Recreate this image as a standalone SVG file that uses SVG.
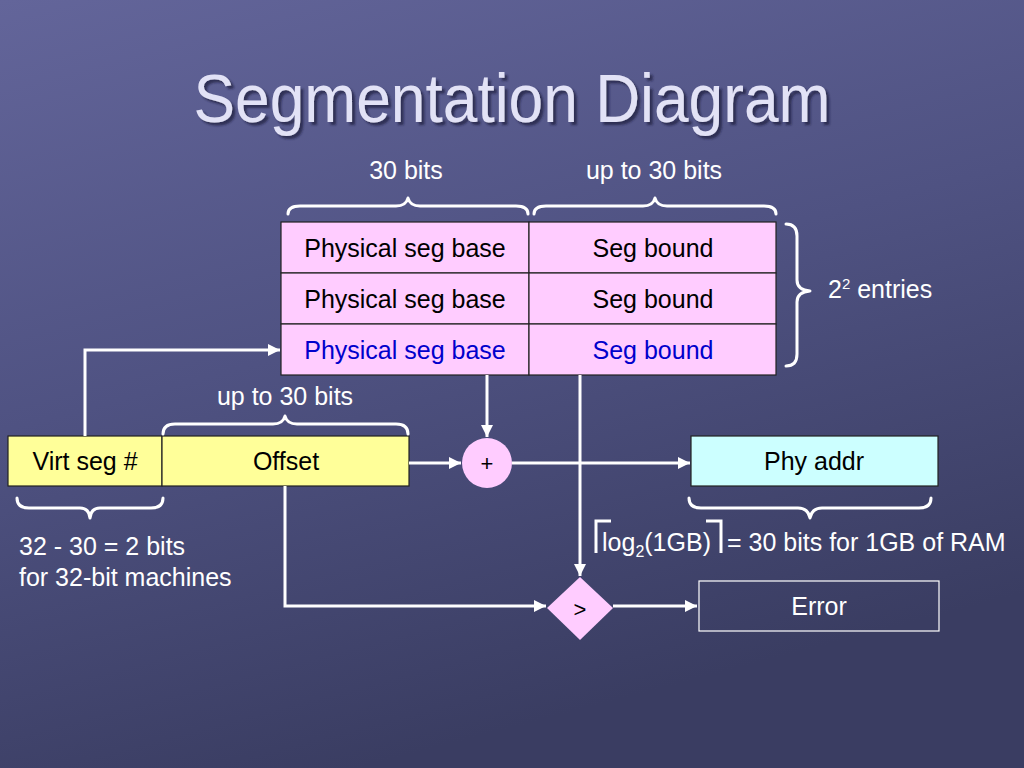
<svg xmlns="http://www.w3.org/2000/svg" width="1024" height="768" viewBox="0 0 1024 768">
<defs>
<linearGradient id="bg" x1="0" y1="0" x2="0.35" y2="1">
<stop offset="0" stop-color="#63659a"/>
<stop offset="0.5" stop-color="#4f5282"/>
<stop offset="1" stop-color="#3a3d62"/>
</linearGradient>
<filter id="shadow" x="-5%" y="-20%" width="110%" height="140%">
<feDropShadow dx="3" dy="3" stdDeviation="1.2" flood-color="#1e1f3a" flood-opacity="0.7"/>
</filter>
<marker id="arrw" viewBox="0 0 10 10" refX="10" refY="5" markerWidth="14" markerHeight="12" orient="auto" markerUnits="userSpaceOnUse">
<path d="M0,0 L10,5 L0,10 z" fill="#ffffff"/>
</marker>
</defs>
<style>
text{font-family:"Liberation Sans",Arial,sans-serif;}
.t{font-size:25px;fill:#000;text-anchor:middle;}
.b{fill:#0000cc;}
.w{font-size:25px;fill:#ffffff;}
.c{text-anchor:middle;}
.cell{stroke:#222;stroke-width:1.2;}
.pink{fill:#ffccff;}
.brace{fill:none;stroke:#ffffff;stroke-width:3;stroke-linecap:round;stroke-linejoin:round;}
.conn{fill:none;stroke:#ffffff;stroke-width:3;}
</style>
<rect width="1024" height="768" fill="url(#bg)"/>
<g id="title">
<text x="512" y="122" font-size="68" fill="#e2e2f6" text-anchor="middle" textLength="637" lengthAdjust="spacingAndGlyphs" filter="url(#shadow)">Segmentation Diagram</text>
</g>
<g id="labels-top">
<text class="w c" x="406" y="179">30 bits</text>
<text class="w c" x="654" y="179">up to 30 bits</text>
<path class="brace" d="M288,214 Q288,206 300,206 L396,206 Q406,206 408,198 Q410,206 420,206 L516,206 Q528,206 528,214"/>
<path class="brace" d="M534,214 Q534,206 546,206 L643,206 Q653,206 655,198 Q657,206 667,206 L764,206 Q776,206 776,214"/>
</g>
<g id="table">
<rect class="cell pink" x="281" y="222" width="248" height="51"/>
<rect class="cell pink" x="529" y="222" width="247" height="51"/>
<rect class="cell pink" x="281" y="273" width="248" height="51"/>
<rect class="cell pink" x="529" y="273" width="247" height="51"/>
<rect class="cell pink" x="281" y="324" width="248" height="51"/>
<rect class="cell pink" x="529" y="324" width="247" height="51"/>
<text class="t" x="405" y="257">Physical seg base</text>
<text class="t" x="653" y="257">Seg bound</text>
<text class="t" x="405" y="308">Physical seg base</text>
<text class="t" x="653" y="308">Seg bound</text>
<text class="t b" x="405" y="359">Physical seg base</text>
<text class="t b" x="653" y="359">Seg bound</text>
</g>
<g id="entries">
<path class="brace" d="M786,224 Q797,224 797,236 L797,280 Q797,290 810,291 Q797,292 797,302 L797,354 Q797,366 786,366"/>
<text class="w" x="828" y="298">2<tspan font-size="15" dy="-9">2</tspan><tspan dy="9"> entries</tspan></text>
</g>
<g id="vaddr">
<rect x="8" y="436" width="154" height="50" fill="#ffff99" stroke="#222" stroke-width="1.2"/>
<rect x="162" y="436" width="247" height="50" fill="#ffff99" stroke="#222" stroke-width="1.2"/>
<text class="t" x="85" y="470">Virt seg #</text>
<text class="t" x="286" y="470">Offset</text>
<text class="w c" x="285" y="405">up to 30 bits</text>
<path class="brace" d="M163,434 Q163,424 175,424 L273,424 Q283,424 285,416 Q287,424 297,424 L396,424 Q408,424 408,434"/>
<path class="brace" d="M17,498 Q17,508 29,508 L80,508 Q89,508 90,518 Q91,508 100,508 L151,508 Q163,508 163,498"/>
<text class="w" x="19" y="555">32 - 30 = 2 bits</text>
<text class="w" x="19" y="586">for 32-bit machines</text>
</g>
<g id="adder">
<circle cx="487" cy="463" r="25" fill="#ffccff"/>
<text x="487" y="471" font-size="22" fill="#000" text-anchor="middle">+</text>
</g>
<g id="phyaddr">
<rect x="691" y="436" width="247" height="50" fill="#ccffff" stroke="#222" stroke-width="1.2"/>
<text class="t" x="814" y="470">Phy addr</text>
<path class="brace" d="M689,498 Q689,508 701,508 L798,508 Q808,508 810,518 Q812,508 822,508 L919,508 Q931,508 931,498"/>
</g>
<g id="ceil">
<path d="M596,553 L596,521 L611,521" fill="none" stroke="#ffffff" stroke-width="3"/>
<path d="M706,521 L721,521 L721,553" fill="none" stroke="#ffffff" stroke-width="3"/>
<text class="w" x="602" y="551">log<tspan font-size="16" dy="6">2</tspan><tspan dy="-6">(1GB)</tspan></text>
<text class="w" x="727" y="551">= 30 bits for 1GB of RAM</text>
</g>
<g id="compare">
<path d="M580,577 L613,608 L580,640 L547,608 z" fill="#ffccff"/>
<text x="580" y="617" font-size="22" fill="#000" text-anchor="middle">&gt;</text>
</g>
<g id="error">
<rect x="699" y="581" width="240" height="50" fill="none" stroke="#ffffff" stroke-width="1.2"/>
<text class="w c" x="819" y="615">Error</text>
</g>
<g id="connectors">
<path class="conn" d="M85,436 L85,350 L280,350" marker-end="url(#arrw)"/>
<path class="conn" d="M487,375 L487,437" marker-end="url(#arrw)"/>
<path class="conn" d="M409,463 L461,463" marker-end="url(#arrw)"/>
<path class="conn" d="M512,463 L690,463" marker-end="url(#arrw)"/>
<path class="conn" d="M580,375 L580,576" marker-end="url(#arrw)"/>
<path class="conn" d="M285,486 L285,606 L546,606" marker-end="url(#arrw)"/>
<path class="conn" d="M613,606 L697,606" marker-end="url(#arrw)"/>
</g>
</svg>
